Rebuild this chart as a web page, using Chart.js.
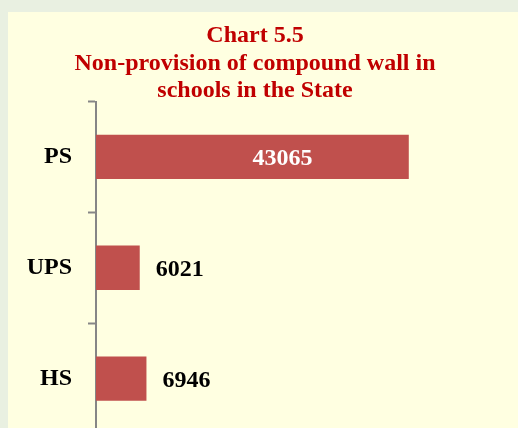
<!DOCTYPE html>
<html>
<head>
<meta charset="utf-8">
<script src="https://cdn.jsdelivr.net/npm/chart.js@4.4.1/dist/chart.umd.min.js"></script>
<style>
  html, body { margin: 0; padding: 0; width: 518px; height: 428px; overflow: hidden; background: #e9f0e1; }
  #panel { position: absolute; left: 8px; top: 12px; width: 510px; height: 440px; background: #ffffe1; }
  #wrap { position: absolute; left: 0; top: 0; width: 518px; height: 440px; }
  #c { display: block; width: 518px; height: 440px; }
</style>
</head>
<body>
<div id="panel"></div>
<div id="wrap"><canvas id="c" width="518" height="440"></canvas></div>
<script>
const titleLines = ['Chart 5.5', 'Non-provision of compound wall in', 'schools in the State'];
const categories = ['PS', 'UPS', 'HS'];
const values = [43065, 6021, 6946];

const FONT = '"Liberation Serif", "Times New Roman", serif';

const valueLabels = {
  id: 'valueLabels',
  afterDatasetsDraw(chart) {
    const ctx = chart.ctx;
    const meta = chart.getDatasetMeta(0);
    ctx.save();
    ctx.font = 'bold 24px ' + FONT;
    ctx.textAlign = 'left';
    ctx.textBaseline = 'alphabetic';
    meta.data.forEach((el, i) => {
      const txt = String(values[i]);
      const w = ctx.measureText(txt).width;
      const barLen = el.x - el.base;
      let x, color;
      if (barLen > w + 40) {
        x = (el.x + el.base) / 2;
        color = '#ffffff';
      } else {
        x = el.x + 16;
        color = '#000000';
      }
      ctx.fillStyle = color;
      ctx.fillText(txt, x, el.y + 8.5);
    });
    ctx.restore();
  }
};

new Chart(document.getElementById('c'), {
  type: 'bar',
  data: {
    labels: categories,
    datasets: [{
      data: values,
      backgroundColor: '#c0504d',
      borderWidth: 0,
      categoryPercentage: 0.8,
      barPercentage: 0.5
    }]
  },
  options: {
    indexAxis: 'y',
    responsive: false,
    maintainAspectRatio: false,
    animation: false,
    layout: { padding: { left: 0, right: 8, top: 12, bottom: 6 } },
    plugins: {
      legend: { display: false },
      tooltip: { enabled: false },
      title: {
        display: true,
        text: titleLines,
        color: '#c00000',
        font: { family: FONT, size: 24, weight: 'bold', lineHeight: 1.15 },
        padding: { top: 10, bottom: -3.3 }
      }
    },
    scales: {
      x: {
        display: false,
        min: 0,
        max: 57000
      },
      y: {
        afterFit(scale) { scale.width = 96; scale.paddingTop = 0; scale.paddingBottom = 0; },
        grid: {
          display: true,
          drawOnChartArea: false,
          drawTicks: true,
          tickLength: 8,
          tickWidth: 2,
          tickColor: '#868686',
          offset: true
        },
        border: { display: true, color: '#868686', width: 2 },
        ticks: {
          color: '#000000',
          padding: 16,
          font: { family: FONT, size: 24, weight: 'bold' }
        }
      }
    }
  },
  plugins: [valueLabels]
});
</script>
</body>
</html>
